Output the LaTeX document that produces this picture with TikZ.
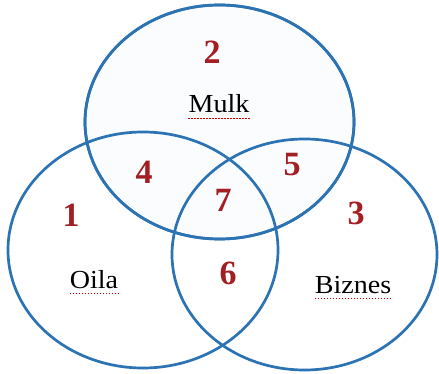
\documentclass[tikz,border=0pt]{standalone}
\usepackage{fontspec}
\setmainfont{Liberation Serif}
\usetikzlibrary{shapes.geometric}
\definecolor{vblue}{HTML}{2C73B3}
\definecolor{vred}{HTML}{A31F24}
\definecolor{vfill}{HTML}{FAFCFE}
\begin{document}
\begin{tikzpicture}[x=1pt,y=-1pt,
  ring/.style={draw=vblue, line width=2.7pt, ellipse, inner sep=0pt},
  num/.style={text=vred, font=\fontsize{34}{34}\selectfont\bfseries, inner sep=0pt},
  word/.style={text=black, font=\fontsize{26}{26}\selectfont, xscale=1.08, inner sep=0pt},
  squig/.style={draw=red!85!black, line width=0.9pt, dash pattern=on 1.6pt off 1.4pt}]
\useasboundingbox (0,0) rectangle (439,374);
\fill[white] (0,0) rectangle (439,374);
\node[ring, fill=vfill, minimum width=269pt, minimum height=234pt] (top) at (219.5,122) {};
\node[ring, minimum width=270pt, minimum height=236pt] (left) at (143,250) {};
\node[ring, minimum width=265pt, minimum height=231pt] (right) at (304.5,254.5) {};
\node[ring, fill=none, minimum width=269pt, minimum height=234pt] (topline) at (219.5,122) {};
\node[num] (n2) at (212,52) {2};
\node[num] (n4) at (144,172) {4};
\node[num] (n5) at (292,165) {5};
\node[num] (n7) at (223,200) {7};
\node[num] (n1) at (71,215) {1};
\node[num] (n3) at (356,213) {3};
\node[num] (n6) at (228,273) {6};
\node[word, anchor=base] (mulk) at (219,113) {Mulk};
\node[word, anchor=base] (oila) at (94,288) {Oila};
\node[word, anchor=base] (biznes) at (353,293) {Biznes};
\foreach \w in {mulk,oila,biznes}{
  \draw[squig] ([yshift=-5pt]\w.base west) -- ([yshift=-5pt]\w.base east);
}
\end{tikzpicture}
\end{document}
